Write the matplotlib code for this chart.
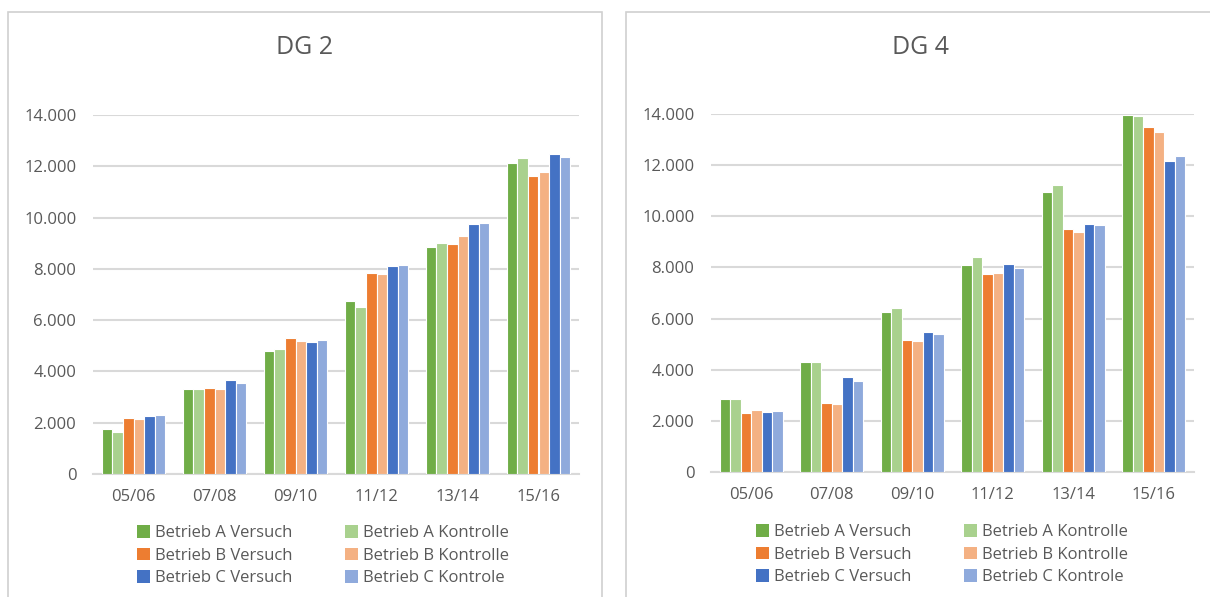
import numpy as np
import matplotlib
matplotlib.use("Agg")
import matplotlib.pyplot as plt
from matplotlib.patches import Rectangle, Patch
from matplotlib.ticker import FuncFormatter

plt.rcParams['font.family'] = ['Open Sans', 'DejaVu Sans']

seasons = ["05/06", "07/08", "09/10", "11/12", "13/14", "15/16"]
series_names = ["Betrieb A Versuch", "Betrieb A Kontrolle",
                "Betrieb B Versuch", "Betrieb B Kontrolle",
                "Betrieb C Versuch", "Betrieb C Kontrole"]
colors = ["#70AD47", "#A9D18E", "#ED7D31", "#F4B183", "#4472C4", "#8FAADC"]

# DG 2 values, one list per series
dg2_a_versuch = [1750, 3330, 4800, 6730, 8860, 12140]
dg2_a_kontrolle = [1640, 3330, 4870, 6510, 9010, 12330]
dg2_b_versuch = [2180, 3370, 5300, 7850, 8970, 11630]
dg2_b_kontrolle = [2130, 3330, 5190, 7780, 9290, 11760]
dg2_c_versuch = [2260, 3660, 5160, 8130, 9750, 12460]
dg2_c_kontrolle = [2300, 3530, 5230, 8160, 9790, 12380]

# DG 4 values
dg4_a_versuch = [2840, 4310, 6250, 8110, 10940, 13970]
dg4_a_kontrolle = [2840, 4310, 6410, 8390, 11210, 13930]
dg4_b_versuch = [2310, 2700, 5170, 7760, 9510, 13500]
dg4_b_kontrolle = [2420, 2660, 5130, 7800, 9390, 13310]
dg4_c_versuch = [2340, 3700, 5480, 8150, 9700, 12170]
dg4_c_kontrolle = [2380, 3540, 5400, 7960, 9660, 12370]

dg2 = [dg2_a_versuch, dg2_a_kontrolle, dg2_b_versuch,
       dg2_b_kontrolle, dg2_c_versuch, dg2_c_kontrolle]
dg4 = [dg4_a_versuch, dg4_a_kontrolle, dg4_b_versuch,
       dg4_b_kontrolle, dg4_c_versuch, dg4_c_kontrolle]

W, H = 1210, 597
fig = plt.figure(figsize=(W / 100, H / 100), dpi=100)
text_col = "#595959"
grid_col = "#D9D9D9"


def px_box(x0, y0, x1, y1):
    # pixel box (top-left origin) -> figure fraction
    return [x0 / W, 1 - y1 / H, (x1 - x0) / W, (y1 - y0) / H]


def thousands(v, pos):
    return "{:,.0f}".format(v).replace(",", ".")


def draw_panel(frame, axbox, title, data, legend_xy):
    fx0, fy0, fx1, fy1 = frame
    fig.patches.append(Rectangle((fx0 / W, 1 - fy1 / H), (fx1 - fx0) / W,
                                 (fy1 - fy0) / H, transform=fig.transFigure,
                                 facecolor="white", edgecolor="#D0D0D0",
                                 linewidth=1.2, zorder=-5))
    ax = fig.add_axes(px_box(*axbox))
    ax.set_zorder(2)
    x = np.arange(len(seasons))
    slot = 0.13
    for i, vals in enumerate(data):
        off = (i - 2.5) * slot
        ax.bar(x + off, vals, width=slot, color=colors[i],
               edgecolor="white", linewidth=0.8, zorder=3)
    ax.set_xlim(-0.5, len(seasons) - 0.5)
    ax.set_ylim(0, 14000)
    ax.set_yticks(np.arange(0, 14001, 2000))
    ax.yaxis.set_major_formatter(FuncFormatter(thousands))
    ax.set_xticks(x)
    ax.set_xticklabels(seasons)
    ax.tick_params(axis="both", length=0, colors=text_col, labelsize=12)
    ax.tick_params(axis="x", pad=11)
    ax.tick_params(axis="y", pad=12)
    ax.grid(axis="y", color=grid_col, linewidth=1.5, zorder=0)
    for s in ["top", "right", "left"]:
        ax.spines[s].set_visible(False)
    ax.spines["bottom"].set_color(grid_col)
    ax.spines["bottom"].set_linewidth(1.5)
    ax.set_facecolor("none")
    fig.text((fx0 + fx1) / 2 / W, 1 - 48 / H, title,
             ha="center", va="center", fontsize=18, color=text_col)
    # legend filled row by row (matplotlib fills column first)
    order = [0, 2, 4, 1, 3, 5]
    handles = [Patch(facecolor=colors[k], edgecolor="none") for k in order]
    labels = [series_names[k] for k in order]
    lx, ly = legend_xy
    fig.legend(handles, labels, loc="upper left",
               bbox_to_anchor=(lx / W, 1 - ly / H), ncol=2, frameon=False,
               fontsize=12, labelcolor=text_col, handlelength=0.8,
               handleheight=0.8, handletextpad=0.3, columnspacing=3.1,
               labelspacing=0.38, borderpad=0, borderaxespad=0)
    return ax


draw_panel((8, 12, 602, 620), (93, 115, 579, 474), "DG 2", dg2, (137, 525))
draw_panel((626, 12, 1216, 620), (711, 114, 1194, 472), "DG 4", dg4, (756, 524))

fig.savefig("out.png", dpi=100)
